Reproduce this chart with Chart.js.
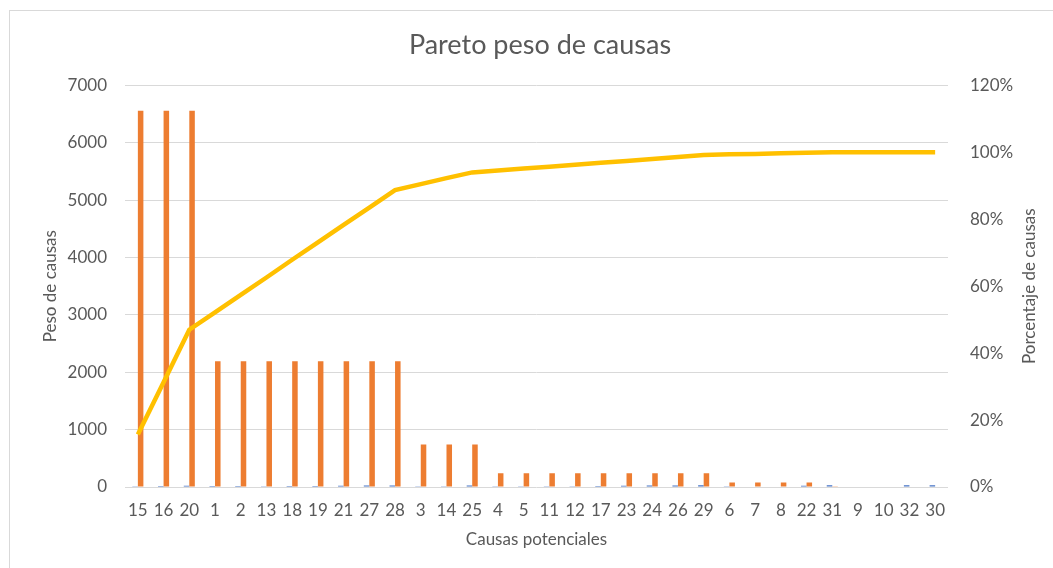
<!DOCTYPE html>
<html>
<head>
<meta charset="utf-8">
<script src="https://cdn.jsdelivr.net/npm/chart.js@4.4.1/dist/chart.umd.min.js"></script>
<style>
    html, body { margin: 0; padding: 0; background: #fff; overflow: hidden; }
    #marco {
        position: absolute; left: 9px; top: 10px;
        width: 1100px; height: 600px;
        border: 1px solid #d9d9d9;
    }
    #wrap { position: absolute; left: 0; top: 0; width: 1053px; height: 568px; }
</style>
</head>
<body>
<div id="marco"></div>
<div id="wrap"><canvas id="pareto" width="1053" height="568"></canvas></div>
<script>
// causas ordenadas por peso
var causas = ["15", "16", "20", "1", "2", "13", "18", "19", "21", "27", "28", "3", "14", "25", "4", "5",
    "11", "12", "17", "23", "24", "26", "29", "6", "7", "8", "22", "31", "9", "10", "32", "30"];

// columna con el numero de causa (sale como barra azul muy baja)
var numeroCausa = [15, 16, 20, 1, 2, 13, 18, 19, 21, 27, 28, 3, 14, 25, 4, 5,
    11, 12, 17, 23, 24, 26, 29, 6, 7, 8, 22, 31, 9, 10, 32, 30];

var peso = [6560, 6560, 6560, 2190, 2190, 2190, 2190, 2190, 2190, 2190, 2190, 740, 740, 740, 240, 240,
    240, 240, 240, 240, 240, 240, 240, 80, 80, 80, 80, 15, 0, 0, 0, 0];

// porcentaje acumulado
var porcentaje = [15.7, 31.3, 47.0, 52.2, 57.4, 62.6, 67.9, 73.1, 78.3, 83.5, 88.7, 90.5, 92.3, 94.0, 94.6, 95.2,
    95.7, 96.3, 96.9, 97.4, 98.0, 98.6, 99.2, 99.4, 99.5, 99.7, 99.9, 100, 100, 100, 100, 100];

var pesoTicks = [0, 1000, 2000, 3000, 4000, 5000, 6000, 7000];
var pctTicks = [0, 20, 40, 60, 80, 100, 120];

var gris = "#595959";
var fuente = "Lato";
var tituloDerecho = "Porcentaje de causas";

// titulo del eje derecho leido de abajo hacia arriba, como el izquierdo
const tituloY1 = {
    id: "tituloY1",
    afterDraw(chart) {
        const s = chart.scales.y1;
        const ctx = chart.ctx;
        ctx.save();
        ctx.fillStyle = gris;
        ctx.font = "17px " + fuente;
        ctx.textAlign = "center";
        ctx.textBaseline = "middle";
        ctx.translate(s.right - 4 - 10, (s.top + s.bottom) / 2);
        ctx.rotate(-Math.PI / 2);
        ctx.fillText(tituloDerecho, 0, 0);
        ctx.restore();
    },
};

var paretoChart = new Chart("pareto", {
    type: "bar",
    data: {
        labels: causas,
        datasets: [
            {
                label: "Causa",
                data: numeroCausa,
                backgroundColor: "#4472C4",
                yAxisID: "y",
                order: 2,
            },
            {
                label: "Peso",
                data: peso,
                backgroundColor: "#ED7D31",
                yAxisID: "y",
                order: 2,
            },
            {
                type: "line",
                label: "Porcentaje",
                data: porcentaje,
                borderColor: "#FFC000",
                borderWidth: 4.5,
                pointRadius: 0,
                tension: 0,
                yAxisID: "y1",
                order: 1,
            },
        ],
    },
    options: {
        responsive: false,
        animation: false,
        devicePixelRatio: 1,
        layout: {
            padding: { left: 36, right: 9, top: 0, bottom: 14 },
        },
        datasets: {
            bar: {
                categoryPercentage: 0.43,
                barPercentage: 1,
            },
        },
        plugins: {
            legend: { display: false },
            tooltip: { enabled: false },
            title: {
                display: true,
                text: "Pareto peso de causas",
                color: gris,
                font: { family: fuente, size: 27, weight: "normal" },
                padding: { top: 29, bottom: 24 },
            },
        },
        scales: {
            x: {
                grid: { display: false },
                border: { display: false },
                ticks: {
                    color: gris,
                    font: { family: fuente, size: 17 },
                    maxRotation: 0,
                    autoSkip: false,
                    padding: 5,
                },
                title: {
                    display: true,
                    text: "Causas potenciales",
                    color: gris,
                    font: { family: fuente, size: 17 },
                },
                afterFit: function (scale) {
                    scale.height = 67;
                },
            },
            y: {
                position: "left",
                min: 0,
                max: 7000,
                afterBuildTicks: function (scale) {
                    scale.ticks = pesoTicks.map(function (v) { return { value: v }; });
                },
                grid: { color: "#d9d9d9", lineWidth: 1, drawTicks: false },
                border: { display: false },
                ticks: {
                    color: gris,
                    font: { family: fuente, size: 17 },
                    padding: 18,
                    callback: function (v) { return String(v); },
                },
                title: {
                    display: true,
                    text: "Peso de causas",
                    color: gris,
                    font: { family: fuente, size: 17 },
                },
                afterFit: function (scale) {
                    scale.width = 89;
                },
            },
            y1: {
                position: "right",
                min: 0,
                max: 120,
                afterBuildTicks: function (scale) {
                    scale.ticks = pctTicks.map(function (v) { return { value: v }; });
                },
                grid: { display: false },
                border: { display: false },
                ticks: {
                    color: gris,
                    font: { family: fuente, size: 17 },
                    padding: 14,
                    callback: function (v) { return v + "%"; },
                },
                title: { display: false },
                afterFit: function (scale) {
                    scale.width = 96;
                },
            },
        },
    },
    plugins: [tituloY1],
});
</script>
</body>
</html>
